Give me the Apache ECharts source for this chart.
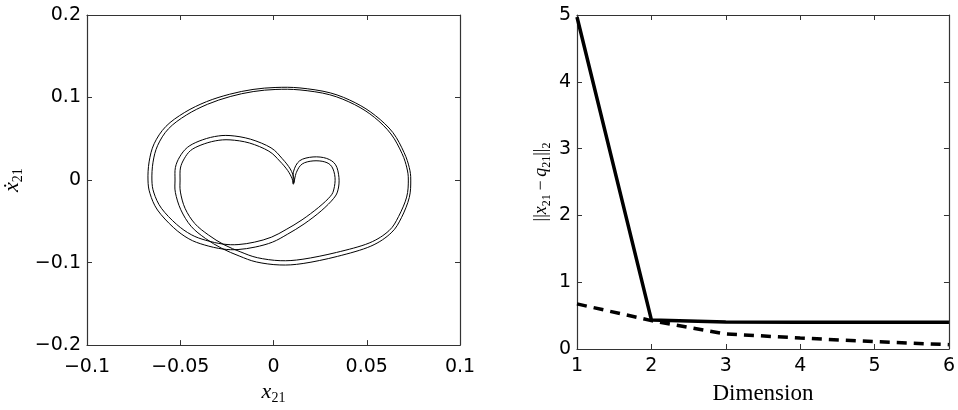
<!DOCTYPE html>
<html>
<head>
<meta charset="utf-8">
<script src="https://cdn.jsdelivr.net/npm/echarts@6/dist/echarts.min.js"></script>
<style>
  html, body { margin: 0; padding: 0; background: #fff; }
  #chart { width: 958px; height: 410px; }
</style>
</head>
<body>
<div id="chart"></div>
<script>
// Phase portrait of x21: two passes of the periodic orbit, [x21, dx21/dt]
const orbitPassA = [
  [0.0013, 0.1122], [0.0142, 0.1116], [0.0305, 0.1056], [0.0439, 0.0936], [0.0547, 0.0780],
  [0.0640, 0.0576], [0.0700, 0.0334], [0.0728, 0.0151], [0.0736, 0.0000], [0.0728, -0.0212],
  [0.0686, -0.0456], [0.0631, -0.0640], [0.0522, -0.0801], [0.0343, -0.0925], [0.0159, -0.1011],
  [0.0034, -0.1029], [-0.0091, -0.0993], [-0.0184, -0.0920], [-0.0277, -0.0828], [-0.0364, -0.0709],
  [-0.0442, -0.0560], [-0.0497, -0.0360], [-0.0526, -0.0152], [-0.0528, 0.0000], [-0.0526, 0.0152],
  [-0.0503, 0.0281], [-0.0462, 0.0395], [-0.0399, 0.0472], [-0.0316, 0.0527], [-0.0233, 0.0539],
  [-0.0123, 0.0495], [-0.0013, 0.0390], [0.0047, 0.0259], [0.0090, 0.0134], [0.0110, 0.0020],
  [0.0107, -0.0035], [0.0108, 0.0108], [0.0141, 0.0235], [0.0212, 0.0280], [0.0285, 0.0262],
  [0.0333, 0.0185], [0.0351, 0.0030], [0.0346, -0.0118], [0.0323, -0.0221], [0.0256, -0.0373],
  [0.0164, -0.0532], [0.0076, -0.0655], [-0.0005, -0.0752], [-0.0098, -0.0812], [-0.0190, -0.0842],
  [-0.0272, -0.0836], [-0.0371, -0.0786], [-0.0454, -0.0712], [-0.0537, -0.0574], [-0.0622, -0.0363],
  [-0.0662, -0.0165], [-0.0673, 0.0000], [-0.0667, 0.0220], [-0.0640, 0.0440], [-0.0577, 0.0650],
  [-0.0476, 0.0820], [-0.0359, 0.0950], [-0.0235, 0.1040], [-0.0110, 0.1098]
];
const orbitPassB = [
  [0.0013, 0.1098], [0.0142, 0.1092], [0.0301, 0.1034], [0.0435, 0.0914], [0.0541, 0.0760],
  [0.0630, 0.0558], [0.0689, 0.0322], [0.0715, 0.0147], [0.0723, 0.0000], [0.0714, -0.0206],
  [0.0671, -0.0440], [0.0619, -0.0614], [0.0513, -0.0763], [0.0338, -0.0877], [0.0158, -0.0959],
  [0.0036, -0.0977], [-0.0086, -0.0941], [-0.0175, -0.0872], [-0.0265, -0.0784], [-0.0349, -0.0665],
  [-0.0422, -0.0527], [-0.0474, -0.0344], [-0.0499, -0.0146], [-0.0501, 0.0000], [-0.0499, 0.0146],
  [-0.0479, 0.0257], [-0.0445, 0.0357], [-0.0389, 0.0424], [-0.0312, 0.0475], [-0.0233, 0.0487],
  [-0.0129, 0.0449], [-0.0025, 0.0350], [0.0033, 0.0231], [0.0076, 0.0116], [0.0100, 0.0016],
  [0.0107, -0.0049], [0.0123, 0.0094], [0.0154, 0.0195], [0.0212, 0.0232], [0.0275, 0.0220],
  [0.0313, 0.0161], [0.0330, 0.0030], [0.0324, -0.0108], [0.0305, -0.0197], [0.0242, -0.0331],
  [0.0153, -0.0482], [0.0068, -0.0599], [-0.0011, -0.0692], [-0.0101, -0.0752], [-0.0190, -0.0782],
  [-0.0270, -0.0776], [-0.0363, -0.0730], [-0.0441, -0.0662], [-0.0520, -0.0536], [-0.0601, -0.0342],
  [-0.0641, -0.0157], [-0.0652, 0.0000], [-0.0646, 0.0216], [-0.0621, 0.0420], [-0.0563, 0.0622],
  [-0.0467, 0.0788], [-0.0354, 0.0918], [-0.0232, 0.1012], [-0.0109, 0.1072]
];

// Error norm versus embedding dimension
const dimensions = [1, 2, 3, 4, 5, 6];
const errorSolid = [4.97, 0.435, 0.405, 0.40, 0.40, 0.40];
const errorDashed = [0.675, 0.425, 0.225, 0.165, 0.11, 0.065];

// Axis ranges and tick spacing
const phaseX = { min: -0.1, max: 0.1, interval: 0.05 };
const phaseY = { min: -0.2, max: 0.2, interval: 0.1 };
const dimX = { min: 1, max: 6, interval: 1 };
const errY = { min: 0, max: 5, interval: 1 };

const INK = '#000';
const FRAME = '#333';
const SANS = 'DejaVu Sans, Liberation Sans, Arial, sans-serif';
const SERIF = 'Liberation Serif, DejaVu Serif, serif';

function tickText(v) {
  const s = String(+Number(v).toFixed(4));
  return s.replace('-', '\u2212');
}

// Closed Catmull-Rom spline through pixel points, as SVG path data
function closedSplinePath(pts) {
  const n = pts.length;
  const P = i => pts[(i + n) % n];
  let d = 'M' + pts[0][0] + ' ' + pts[0][1];
  for (let i = 0; i < n; i++) {
    const p0 = P(i - 1), p1 = P(i), p2 = P(i + 1), p3 = P(i + 2);
    const c1x = p1[0] + (p2[0] - p0[0]) / 6, c1y = p1[1] + (p2[1] - p0[1]) / 6;
    const c2x = p2[0] - (p3[0] - p1[0]) / 6, c2y = p2[1] - (p3[1] - p1[1]) / 6;
    d += ' C' + c1x + ' ' + c1y + ' ' + c2x + ' ' + c2y + ' ' + p2[0] + ' ' + p2[1];
  }
  return d + ' Z';
}

function orbitSeries(points) {
  return {
    type: 'custom',
    coordinateSystem: 'cartesian2d',
    xAxisIndex: 0, yAxisIndex: 0,
    silent: true,
    clip: true,
    data: points,
    encode: { x: 0, y: 1 },
    renderItem: function (params, api) {
      if (params.dataIndex !== 0) return null;
      const px = points.map(p => api.coord(p));
      return {
        type: 'path',
        shape: { pathData: closedSplinePath(px) },
        style: { fill: null, stroke: INK, lineWidth: 1 }
      };
    }
  };
}

function frameAxis(kind, gridIndex, range, position, withLabels, labelMargin, extra) {
  return Object.assign({
    type: 'value',
    gridIndex: gridIndex,
    position: position,
    min: range.min, max: range.max, interval: range.interval,
    axisLine: { show: true, onZero: false, lineStyle: { color: FRAME, width: 1.2 } },
    axisTick: { show: true, inside: true, length: 5, lineStyle: { color: FRAME, width: 1 } },
    splitLine: { show: false },
    axisLabel: {
      show: withLabels,
      color: INK,
      fontFamily: SANS,
      fontSize: 19,
      margin: labelMargin,
      padding: kind === 'y' ? [5, 0, 0, 0] : 0,
      formatter: tickText
    }
  }, extra || {});
}

const phaseRich = {
  i: { fontFamily: SERIF, fontStyle: 'italic', fontSize: 22, color: INK },
  s: { fontFamily: SERIF, fontSize: 14, color: INK, padding: [12, 0, 0, 0] }
};
const normRich = {
  i: { fontFamily: SERIF, fontStyle: 'italic', fontSize: 18, color: INK },
  s: { fontFamily: SERIF, fontSize: 12, color: INK, padding: [11, 0, 0, 0] },
  n: { fontFamily: SERIF, fontSize: 18, color: INK }
};

const chart = echarts.init(document.getElementById('chart'), null, { renderer: 'canvas' });

chart.setOption({
  backgroundColor: '#fff',
  animation: false,
  grid: [
    { left: 87, top: 15, width: 373, height: 335 },
    { left: 577, top: 15, width: 372, height: 335 }
  ],
  xAxis: [
    frameAxis('x', 0, phaseX, 'bottom', true, 12, {
      name: '{i|x}{s|21}', nameLocation: 'middle', nameGap: 30,
      nameTextStyle: { rich: phaseRich }
    }),
    frameAxis('x', 0, phaseX, 'top', false, 8),
    frameAxis('x', 1, dimX, 'bottom', true, 8, {
      name: 'Dimension', nameLocation: 'middle', nameGap: 33,
      nameTextStyle: { fontFamily: SERIF, fontSize: 23, color: INK }
    }),
    frameAxis('x', 1, dimX, 'top', false, 8)
  ],
  yAxis: [
    frameAxis('y', 0, phaseY, 'left', true, 6, {
      name: '{i|\u1E8B}{s|21}', nameLocation: 'middle', nameGap: 62, nameRotate: 90,
      nameTextStyle: { rich: phaseRich }
    }),
    frameAxis('y', 0, phaseY, 'right', false, 6),
    frameAxis('y', 1, errY, 'left', true, 6, {
      name: '{n|||}{i|x}{s|21}{n|\u2009\u2212\u2009}{i|q}{s|21}{n|||}{s|2}',
      nameLocation: 'middle', nameGap: 24, nameRotate: 90,
      nameTextStyle: { rich: normRich }
    }),
    frameAxis('y', 1, errY, 'right', false, 6)
  ],
  series: [
    orbitSeries(orbitPassA),
    orbitSeries(orbitPassB),
    {
      type: 'line', xAxisIndex: 2, yAxisIndex: 2,
      data: dimensions.map((d, k) => [d, errorSolid[k]]),
      showSymbol: false, silent: true,
      lineStyle: { color: INK, width: 3.5 }
    },
    {
      type: 'line', xAxisIndex: 2, yAxisIndex: 2,
      data: dimensions.map((d, k) => [d, errorDashed[k]]),
      showSymbol: false, silent: true,
      lineStyle: { color: INK, width: 3.5, type: [10, 7] }
    }
  ]
});
</script>
</body>
</html>
